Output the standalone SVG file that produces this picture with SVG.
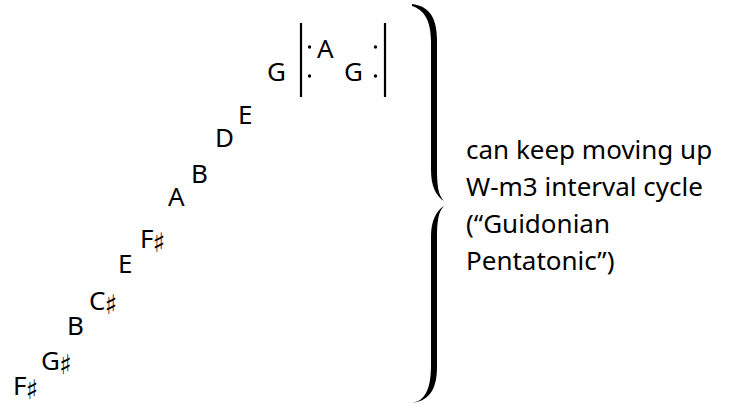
<svg xmlns="http://www.w3.org/2000/svg" width="735" height="408" viewBox="0 0 735 408">
<style>
.n{font-family:"Noto Sans","DejaVu Sans",sans-serif;font-size:26px;fill:#000}
.s{font-family:"DejaVu Sans",sans-serif;font-size:27px}
.t{font-family:"Noto Sans","DejaVu Sans",sans-serif;font-size:26px;fill:#000}
.bar{stroke:#000;stroke-width:2.2}
</style>
<rect width="735" height="408" fill="#fff"/>
<g id="notes">
<text class="n" x="13" y="395">F<tspan class="s" dx="-1" dy="4">♯</tspan></text>
<text class="n" x="41" y="370">G<tspan class="s" dx="-1" dy="4">♯</tspan></text>
<text class="n" x="67" y="335">B</text>
<text class="n" x="89" y="310">C<tspan class="s" dx="-1" dy="4">♯</tspan></text>
<text class="n" x="118" y="273">E</text>
<text class="n" x="140" y="248">F<tspan class="s" dx="-1" dy="4">♯</tspan></text>
<text class="n" x="168" y="206">A</text>
<text class="n" x="191" y="183">B</text>
<text class="n" x="215" y="147">D</text>
<text class="n" x="238" y="124">E</text>
<text class="n" x="267" y="81">G</text>
<text class="n" x="317" y="58">A</text>
<text class="n" x="344" y="81">G</text>
</g>
<g id="repeat">
<line class="bar" x1="301" y1="23" x2="301" y2="97"/>
<line class="bar" x1="385" y1="23" x2="385" y2="97"/>
<circle cx="309.5" cy="47" r="1.7"/>
<circle cx="309.5" cy="76" r="1.7"/>
<circle cx="375.5" cy="47" r="1.7"/>
<circle cx="375.5" cy="76" r="1.7"/>
</g>
<g id="brace">
<path d="M412,4 C428,6 437,16 437,40 L437,168 C437,185 438,195 444,201 C436,196 431,186 431,170 L431,42 C431,20 424,10 412,6 Z"/>
<path d="M444,206 C438,212 437,222 437,239 L437,367 C437,391 428,401 412,403 C424,401 431,391 431,365 L431,237 C431,221 436,211 444,206 Z"/>
</g>
<g id="label">
<text class="t" x="466" y="159">can keep moving up</text>
<text class="t" x="466" y="196">W-m3 interval cycle</text>
<text class="t" x="466" y="233">(“Guidonian</text>
<text class="t" x="466" y="270">Pentatonic”)</text>
</g>
</svg>
